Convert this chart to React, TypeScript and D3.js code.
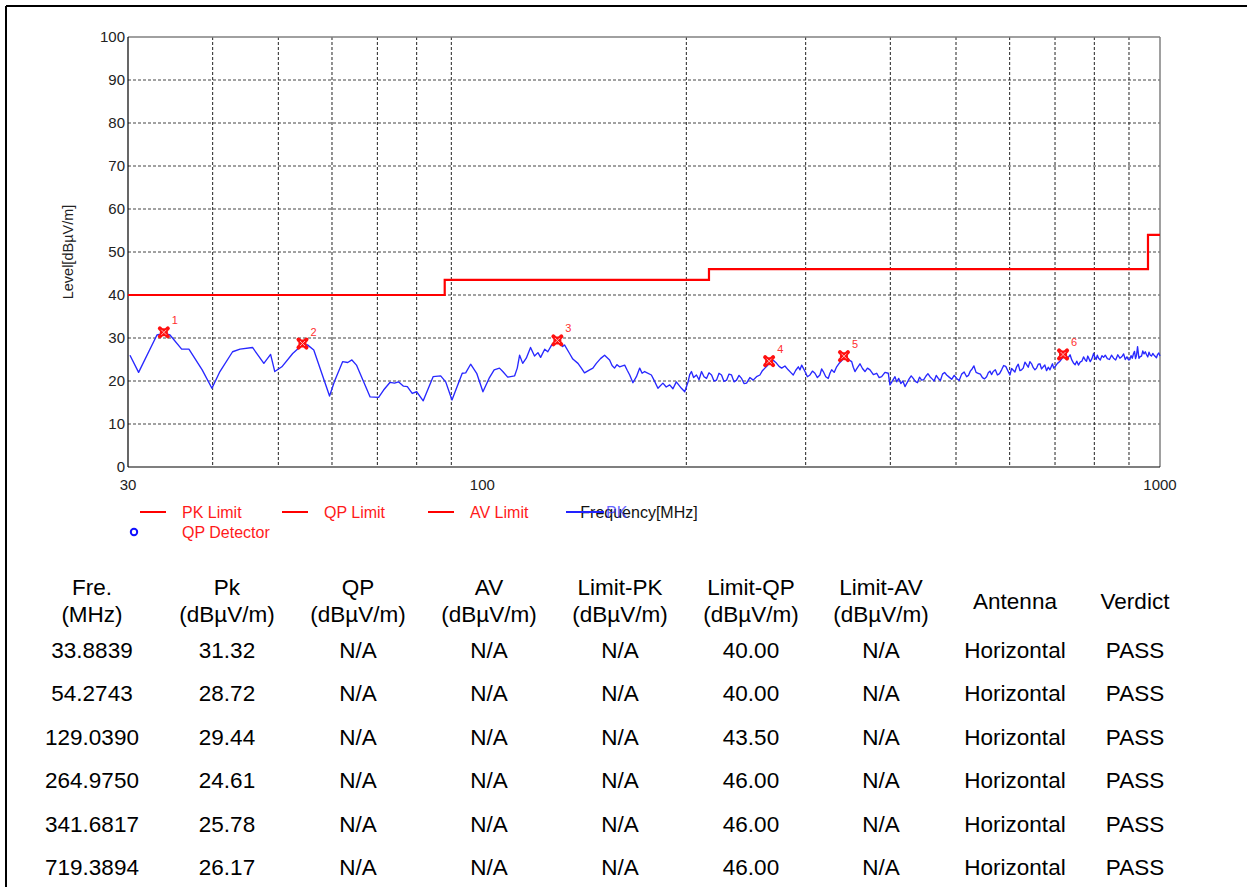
import React from 'react';
import * as d3 from 'd3';

// ---- chart data ----
const yTicks = [0, 10, 20, 30, 40, 50, 60, 70, 80, 90, 100];
const xTickLabels = [30, 100, 1000];
const xGridFreqs = [40, 50, 60, 70, 80, 90, 200, 300, 400, 500, 600, 700, 800, 900];

// limit steps: [start frequency MHz, level dBuV/m]
const limitSteps: [number, number][] = [
  [30, 40], [88, 43.5], [216, 46], [960, 54], [1000, 54],
];

// peak trace [MHz, dBuV/m]
const peakTrace: [number, number][] = [
  [30.2, 26.0], [31.1, 22.0], [33.1, 30.7], [34.0, 31.1], [34.6, 30.7], [36.0, 27.4], [36.9, 27.4],
  [38.6, 22.6], [39.9, 18.3], [41.0, 22.2], [42.8, 26.8], [43.9, 27.4], [45.8, 27.8], [47.6, 24.1],
  [48.7, 26.2], [49.4, 22.2], [50.6, 23.3], [52.5, 26.4], [54.3, 28.5], [55.2, 28.4], [56.4, 27.2],
  [59.5, 16.5], [60.6, 20.2], [62.2, 24.5], [63.3, 24.3], [64.2, 24.9], [65.2, 23.7], [68.3, 16.3],
  [70.3, 16.2], [71.5, 17.9], [73.1, 19.7], [74.2, 19.5], [75.2, 19.8], [76.5, 18.8], [77.5, 18.7],
  [78.8, 17.1], [80.0, 17.5], [81.8, 15.4], [84.6, 21.0], [86.8, 21.2], [88.3, 19.8], [90.2, 15.6],
  [93.4, 21.8], [94.5, 21.9], [96.1, 23.9], [98.1, 21.8], [100.2, 17.5], [102.3, 20.6], [104.1, 22.6],
  [106.0, 23.0], [107.2, 22.2], [109.0, 20.9], [111.6, 21.2], [112.6, 23.0], [113.5, 26.0], [114.7, 24.1],
  [116.1, 25.3], [117.8, 27.8], [119.4, 25.8], [120.8, 26.6], [121.9, 25.5], [123.6, 27.4], [124.9, 26.8],
  [126.6, 28.4], [129.5, 29.1], [131.4, 28.0], [132.2, 28.4], [134.5, 26.4], [136.0, 25.1], [138.4, 24.1],
  [140.0, 23.0], [141.5, 21.9], [144.0, 22.6], [145.6, 23.0], [147.3, 24.1], [149.4, 25.2], [151.5, 26.0],
  [154.1, 24.9], [155.4, 23.6], [156.7, 23.0], [158.0, 23.8], [159.4, 23.3], [162.2, 23.7], [163.6, 22.5],
  [165.0, 21.4], [166.8, 19.6], [168.8, 21.0], [170.7, 23.0], [172.1, 21.8], [173.6, 22.2], [177.6, 21.4],
  [179.6, 19.9], [181.6, 18.3], [184.7, 19.5], [186.8, 18.6], [189.0, 19.1], [191.1, 18.2], [193.3, 19.8],
  [196.7, 18.3], [198.9, 17.5], [201.2, 19.8], [202.3, 21.5], [203.5, 22.2], [205.0, 20.8], [207.0, 21.4],
  [208.8, 20.3], [210.6, 22.2], [212.4, 21.0], [214.2, 20.6], [216.0, 21.9], [217.9, 21.4], [219.7, 20.0],
  [221.6, 20.2], [223.5, 21.8], [225.4, 21.4], [227.3, 19.9], [229.3, 20.2], [231.2, 21.6], [233.2, 21.4],
  [235.2, 19.8], [237.2, 20.2], [239.2, 21.3], [241.3, 20.6], [243.3, 19.4], [245.4, 19.5], [248.2, 20.8],
  [251.0, 20.2], [253.9, 21.0], [256.8, 21.4], [259.0, 22.4], [261.2, 23.0], [263.5, 23.6], [265.7, 24.5],
  [268.7, 24.8], [271.8, 24.1], [274.1, 23.4], [276.5, 23.0], [279.6, 23.5], [282.7, 22.6], [285.1, 22.0],
  [287.6, 21.4], [290.1, 22.5], [292.6, 23.3], [294.3, 22.6], [296.0, 23.7], [297.6, 23.0], [299.3, 22.2],
  [301.8, 21.0], [304.4, 21.4], [307.0, 22.3], [309.6, 21.8], [312.2, 20.8], [314.9, 21.4], [316.7, 22.8],
  [318.5, 22.2], [321.2, 21.0], [323.9, 20.6], [325.8, 21.8], [327.7, 22.6], [330.5, 22.0], [333.3, 23.3],
  [336.5, 24.2], [339.5, 24.8], [342.9, 25.7], [346.8, 25.0], [350.8, 24.5], [352.7, 23.2], [354.7, 22.2],
  [357.7, 23.1], [360.8, 24.0], [363.9, 22.9], [367.0, 22.2], [370.1, 23.0], [373.3, 22.6], [377.6, 21.5],
  [381.9, 21.8], [385.1, 20.8], [388.4, 21.0], [392.8, 22.0], [397.2, 21.8], [399.5, 19.1], [404.1, 20.4],
  [408.7, 19.8], [414.5, 19.4], [420.4, 18.7], [426.4, 20.5], [432.4, 20.6], [438.6, 19.6], [444.9, 20.2],
  [451.3, 21.1], [457.7, 21.0], [464.2, 20.0], [470.8, 20.6], [477.6, 21.6], [484.4, 21.4], [492.7, 20.4],
  [501.1, 20.6], [509.7, 21.6], [518.4, 21.0], [524.9, 22.3], [531.4, 23.5], [535.3, 22.0], [539.2, 21.8],
  [547.0, 20.8], [554.8, 21.0], [561.1, 22.3], [567.4, 22.2], [575.6, 21.4], [583.8, 22.6], [592.1, 23.4],
  [600.5, 21.4], [607.4, 22.5], [614.3, 23.3], [621.3, 22.4], [628.3, 23.0], [635.5, 23.8], [642.7, 24.5],
  [650.1, 23.1], [657.5, 23.0], [665.0, 24.0], [672.5, 23.3], [680.2, 22.4], [688.0, 22.6], [693.9, 24.0],
  [699.8, 23.3], [711.9, 24.6], [724.0, 26.0], [732.5, 25.5], [741.0, 24.9], [749.5, 23.8], [758.0, 23.7],
  [766.8, 24.6], [775.7, 24.9], [782.3, 25.8], [789.0, 24.5], [798.0, 26.4], [804.8, 25.0], [811.7, 25.3],
  [821.0, 25.9], [830.3, 26.0], [842.2, 25.0], [854.1, 25.3], [866.4, 26.1], [878.8, 25.7], [888.7, 25.0],
  [898.7, 24.9], [906.3, 25.9], [914.0, 26.4], [920.3, 25.2], [926.6, 28.0], [930.9, 25.3], [935.2, 25.7],
  [943.2, 27.0], [951.3, 26.8], [959.4, 25.6], [967.5, 26.0], [975.8, 26.4], [984.2, 25.7], [992.0, 26.2],
  [1000, 25.8],
];

// extra sweep points
const peakTraceFine: [number, number][] = [
  [406.4, 21.0], [411.6, 20.6], [417.4, 20.0], [423.4, 19.6], [429.4, 21.2], [435.5, 19.9], [441.7, 20.9],
  [448.1, 20.3], [454.5, 21.7], [461.0, 20.5], [467.5, 21.3], [474.2, 20.1], [481.0, 22.0], [488.5, 20.9],
  [496.9, 21.3], [505.4, 20.1], [514.0, 22.1], [521.6, 21.3], [528.1, 22.8], [543.1, 21.6], [550.9, 20.5],
  [558.0, 21.9], [564.2, 21.5], [571.5, 22.6], [579.7, 21.7], [587.9, 23.6], [596.3, 22.4], [604.0, 22.9],
  [610.8, 22.1], [617.8, 23.9], [624.8, 22.6], [632.0, 24.4], [639.1, 23.2], [646.4, 24.0], [653.8, 22.6],
  [661.2, 23.9], [668.7, 22.8], [676.3, 23.7], [684.1, 23.2], [696.8, 23.0], [705.8, 24.1], [718.0, 25.4],
  [728.2, 25.0], [736.7, 26.1], [745.2, 24.2], [753.7, 24.6], [762.4, 24.4], [771.2, 25.6], [779.0, 24.6],
  [785.6, 25.2], [793.5, 25.2], [801.4, 25.5], [808.2, 26.0], [816.3, 24.9], [825.6, 25.5], [836.2, 25.2],
  [848.1, 26.0], [860.2, 24.9], [872.6, 25.3], [883.7, 26.3], [893.7, 25.6], [902.5, 25.0], [910.1, 25.3],
  [917.1, 26.9], [923.4, 26.0], [939.2, 25.8], [947.2, 26.3], [955.3, 26.1], [963.4, 26.7], [971.6, 25.8],
  [980.0, 26.0], [988.1, 25.4], [996.0, 26.5],
];

const markerFreqs = [33.8839, 54.2743, 129.039, 264.975, 341.6817, 719.3894];
const markerLevels = [31.32, 28.72, 29.44, 24.61, 25.78, 26.17];

const tableHeadTop = ['Fre.', 'Pk', 'QP', 'AV', 'Limit-PK', 'Limit-QP', 'Limit-AV', 'Antenna', 'Verdict'];
const tableHeadBottom = ['(MHz)', '(dBµV/m)', '(dBµV/m)', '(dBµV/m)', '(dBµV/m)', '(dBµV/m)', '(dBµV/m)', '', ''];
const rowFreq = ['33.8839', '54.2743', '129.0390', '264.9750', '341.6817', '719.3894'];
const rowPk = ['31.32', '28.72', '29.44', '24.61', '25.78', '26.17'];
const rowLimitQP = ['40.00', '40.00', '43.50', '46.00', '46.00', '46.00'];
const rowAntenna = 'Horizontal';
const rowVerdict = 'PASS';

const legendItems = ['PK Limit', 'QP Limit', 'AV Limit'];

// ---- layout ----
const W = 1247;
const H = 887;
const plot = { left: 128, right: 1160, top: 37, bottom: 467 };
const colX = [92, 227, 358, 489, 620, 751, 881, 1015, 1135];
const font = 'Arial, "Liberation Sans", sans-serif';

export default function App() {
  const x = d3.scaleLog().domain([30, 1000]).range([plot.left, plot.right]);
  const y = d3.scaleLinear().domain([0, 100]).range([plot.bottom, plot.top]);

  const limitPath = d3.line<[number, number]>()
    .x(d => x(d[0]))
    .y(d => y(d[1]))
    .curve(d3.curveStepAfter)(limitSteps) || '';

  const tracePoints = [...peakTrace, ...peakTraceFine].sort((a, b) => a[0] - b[0]);
  const tracePath = d3.line<[number, number]>()
    .x(d => x(d[0]))
    .y(d => y(d[1]))(tracePoints) || '';

  const rows = rowFreq.map((f, i) => [f, rowPk[i], 'N/A', 'N/A', 'N/A', rowLimitQP[i], 'N/A', rowAntenna, rowVerdict]);

  return (
    <svg width={W} height={H} style={{ position: 'absolute', left: 0, top: 0, background: '#fff' }} fontFamily={font}>
      {/* outer frame */}
      <line x1={6} x2={W} y1={6} y2={6} stroke="#000" strokeWidth={2} />
      <line x1={6} x2={6} y1={6} y2={H} stroke="#000" strokeWidth={2} />

      {/* grid */}
      {yTicks.filter(t => t > 0 && t < 100).map(t => (
        <line key={'gy' + t} x1={plot.left} x2={plot.right} y1={y(t)} y2={y(t)}
          stroke="#444" strokeWidth={1} strokeDasharray="3,2" />
      ))}
      {xGridFreqs.map(f => (
        <line key={'gx' + f} x1={x(f)} x2={x(f)} y1={plot.top} y2={plot.bottom}
          stroke="#222" strokeWidth={1} strokeDasharray="3,2" />
      ))}

      {/* frame of plot */}
      <line x1={plot.left} x2={plot.right} y1={plot.top} y2={plot.top} stroke="#808080" strokeWidth={1.5} />
      <line x1={plot.right} x2={plot.right} y1={plot.top} y2={plot.bottom} stroke="#808080" strokeWidth={1.5} />
      <line x1={plot.left} x2={plot.left} y1={plot.top} y2={plot.bottom} stroke="#000" strokeWidth={1.2} />
      <line x1={plot.left} x2={plot.right} y1={plot.bottom} y2={plot.bottom} stroke="#000" strokeWidth={1.2} />

      {/* y ticks */}
      {yTicks.map(t => (
        <text key={'yt' + t} x={plot.left - 3} y={y(t)} dy="0.35em" textAnchor="end" fontSize={15} fill="#222">{t}</text>
      ))}
      {/* x ticks */}
      {xTickLabels.map(f => (
        <text key={'xt' + f} x={x(f)} y={plot.bottom + 23} textAnchor="middle" fontSize={15} fill="#222">{f}</text>
      ))}
      <text transform={`translate(73,${(plot.top + plot.bottom) / 2}) rotate(-90)`} textAnchor="middle" fontSize={14.5} fill="#222">Level[dBµV/m]</text>

      {/* limit */}
      <path d={limitPath} fill="none" stroke="#ff0000" strokeWidth={2.2} />

      {/* trace */}
      <path d={tracePath} fill="none" stroke="#2828ff" strokeWidth={1.35} strokeLinejoin="round" />

      {/* markers */}
      {markerFreqs.map((f, i) => {
        const cx = x(f);
        const cy = y(markerLevels[i]);
        return (
          <g key={'m' + i}>
            <circle cx={cx} cy={cy} r={4} fill="#ff1010" />
            <path d={`M${cx - 4},${cy - 4}L${cx + 4},${cy + 4}M${cx - 4},${cy + 4}L${cx + 4},${cy - 4}`}
              stroke="#ff1010" strokeWidth={4} strokeLinecap="round" />
            <path d={`M${cx - 2.5},${cy - 2.5}L${cx + 2.5},${cy + 2.5}M${cx - 2.5},${cy + 2.5}L${cx + 2.5},${cy - 2.5}`}
              stroke="#ffc0c0" strokeWidth={0.9} />
            <text x={cx + 8} y={cy - 8} fontSize={11} fill="#ff3030">{i + 1}</text>
          </g>
        );
      })}

      {/* legend */}
      {legendItems.map((name, i) => {
        const lx = [140, 282, 428][i];
        return (
          <g key={name}>
            <line x1={lx} x2={lx + 26} y1={512} y2={512} stroke="#ff0000" strokeWidth={2} />
            <text x={lx + 42} y={512} dy="0.35em" fontSize={16} fill="#ff1a1a">{name}</text>
          </g>
        );
      })}
      <text x={639} y={512} dy="0.35em" textAnchor="middle" fontSize={16} fill="#111">Frequency[MHz]</text>
      <line x1={566} x2={604} y1={512} y2={512} stroke="#2222ff" strokeWidth={2} />
      <text x={606} y={512} dy="0.35em" fontSize={16} fill="#3333ff" opacity={0.75}>PK</text>
      <circle cx={134} cy={532} r={3.2} fill="none" stroke="#1010ff" strokeWidth={2} />
      <text x={182} y={532} dy="0.35em" fontSize={16} fill="#ff1a1a">QP Detector</text>

      {/* table */}
      {tableHeadTop.map((h, i) => (
        tableHeadBottom[i] ? (
          <g key={'h' + i}>
            <text x={colX[i]} y={587} dy="0.35em" textAnchor="middle" fontSize={22.5} fill="#000">{h}</text>
            <text x={colX[i]} y={614} dy="0.35em" textAnchor="middle" fontSize={22.5} fill="#000">{tableHeadBottom[i]}</text>
          </g>
        ) : (
          <text key={'h' + i} x={colX[i]} y={601} dy="0.35em" textAnchor="middle" fontSize={22.5} fill="#000">{h}</text>
        )
      ))}
      {rows.map((r, ri) => (
        <g key={'r' + ri}>
          {r.map((c, ci) => (
            <text key={ci} x={colX[ci]} y={650 + ri * 43.5} dy="0.35em" textAnchor="middle" fontSize={22.5} fill="#000">{c}</text>
          ))}
        </g>
      ))}
    </svg>
  );
}
